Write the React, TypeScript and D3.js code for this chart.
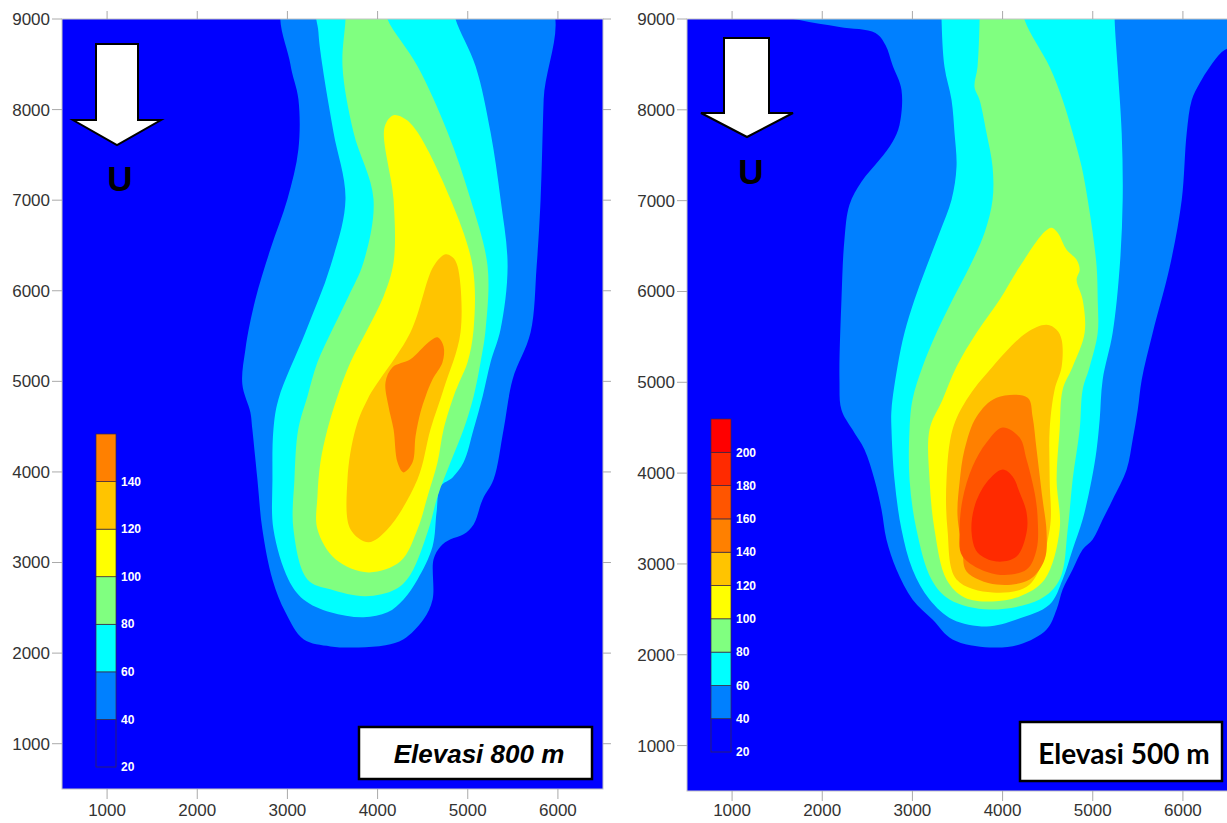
import React from 'react'
import * as d3 from 'd3'

type Pt = [number, number]

// colour of each filled band, keyed by its lower contour level
const levelColors: Record<number, string> = {
    20: '#0000ff', 40: '#0080ff', 60: '#00ffff', 80: '#80ff80', 100: '#ffff00',
    120: '#ffc400', 140: '#ff8000', 160: '#ff5500', 180: '#ff2a00', 200: '#ff0000',
}

const xTicks = [1000, 2000, 3000, 4000, 5000, 6000]
const yTicks = [1000, 2000, 3000, 4000, 5000, 6000, 7000, 8000, 9000]
const legendLeft = [20, 40, 60, 80, 100, 120, 140, 160]
const legendRight = [20, 40, 60, 80, 100, 120, 140, 160, 180, 200, 220]

// ---- Elevasi 800 m contours (x, y in metres) ----
const left40: Pt[] = [
    [2978, 9200], [3033, 8500], [3122, 8113], [3122, 7561], [3000, 7009], [2811, 6457], [2645, 5905],
    [2534, 5353], [2500, 4967], [2589, 4658], [2611, 4470], [2667, 3918], [2722, 3366], [2834, 2814],
    [2978, 2450], [3178, 2152], [3477, 2074], [3788, 2063], [4088, 2086], [4288, 2152], [4510, 2373],
    [4610, 2593], [4621, 3035], [4698, 3178], [4809, 3256], [4954, 3311], [5065, 3421], [5165, 3697],
    [5287, 3918], [5398, 4470], [5498, 5022], [5697, 5541], [5764, 6270], [5808, 7009], [5842, 8113],
    [5886, 9200],
]
const left60: Pt[] = [
    [3344, 9200], [3344, 8853], [3389, 8478], [3511, 7749], [3644, 7009], [3477, 6270], [3200, 5541],
    [2900, 4801], [2845, 4470], [2834, 3918], [2845, 3366], [3011, 2814], [3178, 2593], [3477, 2450],
    [3844, 2395], [4110, 2450], [4288, 2593], [4443, 2814], [4610, 3178], [4654, 3554], [4698, 3841],
    [4832, 3940], [4954, 4106], [5065, 4470], [5165, 4834], [5253, 5210], [5364, 5574], [5442, 6270],
    [5364, 7009], [5253, 7749], [5087, 8478], [4865, 8996], [4832, 9200],
]
const left80: Pt[] = [
    [3644, 9200], [3644, 8996], [3611, 8478], [3733, 7749], [3955, 7009], [3844, 6314], [3677, 5938],
    [3500, 5574], [3333, 5210], [3222, 4834], [3120, 4470], [3078, 3918], [3067, 3366], [3222, 2814],
    [3477, 2704], [3866, 2627], [4199, 2704], [4365, 2869], [4565, 3366], [4665, 3730], [4809, 4106],
    [4954, 4470], [5065, 4834], [5142, 5210], [5198, 5574], [5220, 6270], [5031, 7009], [4776, 7749],
    [4443, 8478], [4110, 8996], [4066, 9200],
]
const left100: Pt[] = [
    [4177, 7937], [4077, 7805], [4177, 7009], [4177, 6314], [4066, 5938], [3888, 5574], [3699, 5210],
    [3555, 4834], [3444, 4470], [3366, 4106], [3333, 3730], [3333, 3366], [3533, 3035], [3899, 2891],
    [4254, 3013], [4443, 3366], [4554, 3730], [4665, 4106], [4732, 4470], [4843, 4834], [4920, 5022],
    [4998, 5210], [5065, 5574], [5054, 6270], [4809, 7009], [4443, 7749], [4310, 7893],
]
const left120: Pt[] = [
    [4754, 6402], [4621, 6270], [4365, 5541], [3888, 4801], [3755, 4470], [3666, 3918], [3699, 3366],
    [3899, 3223], [4110, 3366], [4443, 3918], [4587, 4470], [4732, 4912], [4920, 5541], [4887, 6270],
    [4832, 6369],
]
const left140: Pt[] = [
    [4665, 5486], [4732, 5386], [4720, 5210], [4610, 5022], [4532, 4834], [4476, 4658], [4421, 4393],
    [4388, 4106], [4288, 3995], [4221, 4106], [4177, 4470], [4121, 4724], [4088, 4989], [4166, 5155],
    [4365, 5243], [4565, 5431],
]

// ---- Elevasi 500 m contours ----
const right40: Pt[] = [
    [1414, 9077], [1747, 8989], [2191, 8912], [2590, 8846], [2701, 8714], [2779, 8494], [2879, 8219],
    [2857, 7834], [2779, 7647], [2635, 7449], [2435, 7207], [2302, 6954], [2246, 6569], [2213, 5909],
    [2191, 5029], [2213, 4699], [2335, 4479], [2468, 4259], [2579, 3929], [2657, 3599], [2712, 3269],
    [2823, 2939], [3001, 2609], [3223, 2389], [3445, 2169], [3856, 2081], [4189, 2114], [4488, 2279],
    [4599, 2499], [4666, 2719], [4777, 2939], [4888, 3159], [4999, 3269], [5110, 3489], [5221, 3709],
    [5376, 4039], [5443, 4369], [5499, 4699], [5543, 5029], [5665, 5546], [5854, 6272], [5987, 7009],
    [6042, 7746], [6098, 8109], [6187, 8296], [6298, 8472], [6431, 8637], [6631, 8769], [6686, 9600],
    [1525, 9600],
]
const right60: Pt[] = [
    [3323, 9300], [3323, 8989], [3356, 8472], [3434, 8109], [3467, 7746], [3489, 7372], [3434, 7009],
    [3301, 6646], [3156, 6272], [3023, 5909], [2912, 5546], [2834, 5172], [2768, 4699], [2768, 4479],
    [2801, 3929], [2879, 3379], [3001, 2939], [3190, 2609], [3445, 2389], [3822, 2312], [4155, 2389],
    [4522, 2554], [4666, 2829], [4777, 3159], [4888, 3489], [4988, 3929], [5043, 4259], [5077, 4589],
    [5110, 5029], [5221, 5546], [5299, 6272], [5332, 7009], [5321, 7746], [5276, 8472], [5243, 8989],
    [5243, 9300],
]
const right80: Pt[] = [
    [3745, 9300], [3745, 8989], [3722, 8472], [3689, 8252], [3745, 8109], [3822, 7746], [3889, 7372],
    [3889, 7009], [3800, 6646], [3634, 6272], [3445, 5909], [3267, 5546], [3112, 5172], [3001, 4809],
    [2968, 4479], [2968, 3929], [3045, 3379], [3212, 2829], [3412, 2609], [3856, 2499], [4411, 2609],
    [4633, 2829], [4722, 3379], [4777, 3929], [4855, 4479], [4888, 4919], [4966, 5172], [5055, 5546],
    [5055, 5909], [5043, 6272], [4999, 6646], [4944, 7009], [4877, 7372], [4777, 7746], [4666, 8109],
    [4522, 8472], [4244, 8989], [4189, 9300],
]
const right100: Pt[] = [
    [4544, 6701], [4466, 6657], [4189, 6272], [3967, 5909], [3711, 5546], [3489, 5172], [3334, 4809],
    [3190, 4479], [3190, 3929], [3245, 3379], [3378, 2829], [3578, 2631], [3889, 2587], [4189, 2642],
    [4466, 2829], [4633, 3379], [4599, 3929], [4633, 4479], [4666, 4919], [4777, 5172], [4910, 5546],
    [4888, 5909], [4821, 6129], [4855, 6239], [4821, 6349], [4710, 6459], [4611, 6646],
]
const right120: Pt[] = [
    [4488, 5634], [4266, 5546], [3889, 5172], [3600, 4809], [3445, 4479], [3378, 3929], [3389, 3379],
    [3489, 2829], [3889, 2686], [4300, 2774], [4522, 3379], [4522, 3929], [4522, 4479], [4577, 4919],
    [4655, 5172], [4655, 5469], [4599, 5579],
]
const right140: Pt[] = [
    [3933, 4831], [3711, 4622], [3578, 4259], [3523, 3896], [3500, 3533], [3556, 3170], [3600, 2918],
    [3933, 2774], [4300, 2829], [4466, 3049], [4488, 3346], [4444, 3709], [4377, 4259], [4333, 4622],
    [4278, 4831],
]
const right160: Pt[] = [
    [4000, 4501], [3822, 4336], [3667, 4072], [3556, 3709], [3523, 3346], [3556, 3082], [3933, 2884],
    [4266, 2939], [4377, 3159], [4388, 3522], [4355, 3786], [4266, 4149], [4189, 4391],
]
const right180: Pt[] = [
    [4000, 4039], [3822, 3896], [3689, 3632], [3656, 3346], [3722, 3126], [3933, 3027], [4155, 3082],
    [4266, 3346], [4266, 3566], [4189, 3786], [4111, 3962],
]

const leftContours = [
    { level: 40, pts: left40 }, { level: 60, pts: left60 }, { level: 80, pts: left80 },
    { level: 100, pts: left100 }, { level: 120, pts: left120 }, { level: 140, pts: left140 },
]
const rightContours = [
    { level: 40, pts: right40 }, { level: 60, pts: right60 }, { level: 80, pts: right80 },
    { level: 100, pts: right100 }, { level: 120, pts: right120 }, { level: 140, pts: right140 },
    { level: 160, pts: right160 }, { level: 180, pts: right180 },
]

const axisFont = '"Liberation Sans", Arial, sans-serif'

function Panel(props: any) {
    const { id, left, right, top, bottom, contours, legend, legendBox, labelBox, label, labelStyle, arrow, uPos, showRightTicks } = props
    const x = d3.scaleLinear().domain([500, 6500]).range([left, right])
    const y = d3.scaleLinear().domain([500, 9000]).range([bottom, top])
    const line = d3.line<Pt>()
        .x(d => x(d[0]))
        .y(d => y(d[1]))
        .curve(d3.curveCatmullRomClosed.alpha(0.5))
    const ly = d3.scaleLinear()
        .domain([legend[0], legend[legend.length - 1]])
        .range([legendBox.bottom, legendBox.top])

    return (
        <g>
            <defs>
                <clipPath id={id}>
                    <rect x={left} y={top} width={right - left} height={bottom - top} />
                </clipPath>
            </defs>
            <g clipPath={`url(#${id})`}>
                <rect x={left} y={top} width={right - left} height={bottom - top} fill={levelColors[20]} />
                {contours.map((c: any) => (
                    <path key={c.level} d={line(c.pts) || ''} fill={levelColors[c.level]} />
                ))}
            </g>
            <rect x={left} y={top} width={right - left} height={bottom - top} fill="none" stroke="#c4c4c4" strokeWidth={1} />

            {/* ticks */}
            {yTicks.map(t => (
                <g key={'y' + t}>
                    <line x1={left - 10} x2={left} y1={y(t)} y2={y(t)} stroke="#aaa" />
                    {showRightTicks && <line x1={right} x2={right + 8} y1={y(t)} y2={y(t)} stroke="#aaa" />}
                    <text x={left - 12} y={y(t)} dy="0.35em" textAnchor="end" fontSize={17}
                        fontFamily={axisFont} fill="#333">{t}</text>
                </g>
            ))}
            {xTicks.map(t => (
                <g key={'x' + t}>
                    <line x1={x(t)} x2={x(t)} y1={bottom} y2={bottom + 10} stroke="#aaa" />
                    <line x1={x(t)} x2={x(t)} y1={top - 8} y2={top} stroke="#aaa" />
                    <text x={x(t)} y={816} textAnchor="middle" fontSize={17}
                        fontFamily={axisFont} fill="#333">{t}</text>
                </g>
            ))}

            {/* colour scale */}
            {legend.slice(0, -1).map((v: number, i: number) => (
                <rect key={'lg' + v} x={legendBox.x} y={ly(legend[i + 1])} width={20}
                    height={ly(v) - ly(legend[i + 1])} fill={levelColors[Math.min(v, 200)]}
                    stroke="#3a2a40" strokeWidth={0.7} />
            ))}
            {legend.slice(0, -1).map((v: number) => (
                <text key={'lt' + v} x={legendBox.x + 25} y={ly(v)} dy="0.35em" fontSize={12}
                    fontWeight="bold" fontFamily={axisFont} fill="#fff">{v}</text>
            ))}

            {/* wind arrow */}
            <polygon points={arrow} fill="#fff" stroke="#000" strokeWidth={2} strokeLinejoin="miter" />
            <text x={uPos[0]} y={uPos[1]} textAnchor="middle" fontSize={35} fontWeight="bold"
                fontFamily={axisFont} fill="#000">U</text>

            {/* elevation label */}
            <rect x={labelBox.x} y={labelBox.y} width={labelBox.w} height={labelBox.h}
                fill="#fff" stroke="#000" strokeWidth={2.5} />
            <text x={labelBox.tx} y={labelBox.ty} textAnchor="middle" {...labelStyle}>{label}</text>
        </g>
    )
}

export default function App() {
    return (
        <svg width={1227} height={823} style={{ position: 'absolute', left: 0, top: 0, background: '#fff' }}>
            <Panel id="clipL" left={62} right={603} top={19} bottom={789}
                contours={leftContours} legend={legendLeft}
                legendBox={{ x: 96, top: 434, bottom: 767 }}
                arrow="96,44 138,44 138,120 161,120 117,145 73,120 96,120"
                uPos={[120, 191]} showRightTicks
                labelBox={{ x: 359, y: 727, w: 233, h: 52, tx: 479, ty: 763 }}
                label="Elevasi 800 m"
                labelStyle={{ fontSize: 26, fontWeight: 'bold', fontStyle: 'italic', fontFamily: axisFont, fill: '#000' }} />
            <Panel id="clipR" left={687} right={1228} top={19} bottom={791}
                contours={rightContours} legend={legendRight}
                legendBox={{ x: 711, top: 419, bottom: 752 }}
                arrow="724,38 769,38 769,113 793,113 747,137 701,113 724,113"
                uPos={[751, 184]} showRightTicks={false}
                labelBox={{ x: 1020, y: 722, w: 202, h: 59, tx: 1124, ty: 764 }}
                label="Elevasi 500 m"
                labelStyle={{ fontSize: 28, fontWeight: 'bold', fontFamily: 'Lato, "Open Sans", sans-serif', fill: '#000' }} />
        </svg>
    )
}
